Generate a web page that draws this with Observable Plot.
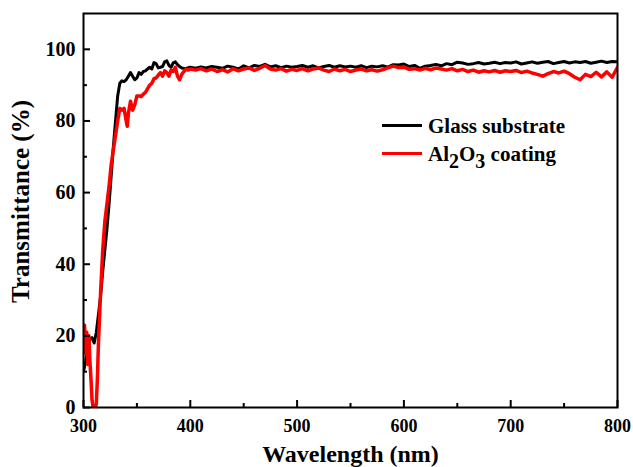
<!DOCTYPE html>
<html>
<head>
<meta charset="utf-8">
<script src="https://cdn.jsdelivr.net/npm/d3@7"></script>
<script src="https://cdn.jsdelivr.net/npm/@observablehq/plot@0.6"></script>
<style>
  html, body { margin: 0; padding: 0; background: #fff; }
  #wrap { position: relative; width: 633px; height: 467px; overflow: hidden; }
  .lg { position: absolute; font-family: "Liberation Serif", "Times New Roman", serif; font-weight: bold; font-size: 21px; line-height: 21px; white-space: nowrap; color: #000; }
  .sw { position: absolute; height: 3px; }
  .sub { position: relative; top: 7px; font-size: 20px; }
</style>
</head>
<body>
<div id="wrap"></div>
<script>
// ---- data ----
const wavelengthGlass = [300,302,304,306,308,310,312,314,316,318,320,322,324,326,328,330,332,334,336,338,340,342,344,346,348,350,352,354,356,358,360,362,364,366,368,370,372,374,376,378,380,382,384,386,388,390,392,395,
400,405,410,415,420,425,430,435,440,445,450,455,460,465,470,475,480,485,490,495,500,505,510,515,520,525,530,535,540,545,550,555,560,565,570,575,580,585,590,595,600,605,610,615,620,625,630,635,640,645,650,655,660,665,670,675,680,685,690,695,700,705,710,715,720,725,730,735,740,745,750,755,760,765,770,775,780,785,790,795,800];
const transGlass = [10,13,17,19,19.5,18,21,26,31,38,44,50,57,65,73,80,87,90.5,91.2,91,91.5,92.5,93.5,92.5,91.5,92,93.5,93,93.8,94,94.5,95,94.5,96.3,96,94.8,95,95.2,96.5,96.8,95.5,95,96.2,96.5,95.7,95.2,94.8,94.6,
95,94.7,95.1,94.8,95.2,95,94.7,95.3,95,94.5,95.4,94.8,95.5,95.2,95.8,95.1,95.4,94.9,95.3,95,95.2,95.5,95,95.4,94.8,95.2,95.5,95,95.4,95.1,95.3,95,95.4,94.9,95.3,95.1,95.4,95,95.7,95.6,95.9,95.2,95.5,94.7,95.3,95.5,95.8,95.4,96,95.7,96.4,96.2,95.8,96,96.3,95.9,96.1,96.4,96,96.3,96.2,96.5,95.9,96.2,96.5,96.1,96.4,96.6,96,96.3,96.6,96.2,96.5,96.3,96.6,96.1,96.4,96.7,96.3,96.6,96.5];

const wavelengthAl = [300,301,302,303,304,305,306,307,308,309,310,311,312,313,314,316,318,320,322,324,326,328,330,332,334,336,338,340,341,342,344,346,348,350,352,354,356,358,360,362,364,366,368,370,372,374,376,378,380,382,384,386,388,390,392,394,396,398,
400,405,410,415,420,425,430,435,440,445,450,455,460,465,470,475,480,485,490,495,500,505,510,515,520,525,530,535,540,545,550,555,560,565,570,575,580,585,590,595,600,605,610,615,620,625,630,635,640,645,650,655,660,665,670,675,680,685,690,695,700,705,710,715,720,725,730,735,740,745,750,755,760,765,770,775,780,785,790,795,800];
const transAl = [21,23,15,21,12,20,13,8,2,0,0,0,1,8,18,32,44,52,57,62,68,72,76,80,83.5,83,83.5,80,78.5,82,85.5,83,84.5,87,87,86.8,87.5,88,89,90,90.5,91.8,92,92.8,93.5,92.5,94,93.5,92.5,94.2,93.8,95,92.5,91.5,93,93.8,94.5,94.2,
94.5,94.2,94.6,94,94.5,93.8,94.3,93.7,94.6,94,94.5,94.8,94.1,94.7,95.5,94.5,94.2,94.6,93.9,94.4,94.1,94.6,94,94.5,94.8,94.2,93.8,94.5,94,94.4,93.8,94.2,94.5,94,94.3,93.9,94.3,94.8,95.3,94.9,95,94.4,94.6,94.2,94.7,94.3,94.8,94.5,94.2,94.6,94,94.4,93.8,94.2,93.6,94,93.7,94.1,93.6,94,93.8,94.1,93.5,93.9,93.4,93,92.5,93.2,93.8,93.4,93.9,93.2,92.2,91.5,93,92.4,93.6,92.3,93.7,92.2,95];

const seriesNames = ["Glass substrate", "Al2O3 coating"];
const seriesColors = ["#000000", "#ff0000"];
const xMajorTicks = [300, 400, 500, 600, 700, 800];
const xMinorTicks = [350, 450, 550, 650, 750];
const yMajorTicks = [0, 20, 40, 60, 80, 100];
const yMinorTicks = [10, 30, 50, 70, 90];
const xTitle = "Wavelength (nm)";
const yTitle = "Transmittance (%)";

// ---- tables ----
const glass = wavelengthGlass.map((w, i) => ({w, t: transGlass[i]}));
const alumina = wavelengthAl.map((w, i) => ({w, t: transAl[i]}));

const font = "'Liberation Serif', 'Times New Roman', serif";
const empty = () => "";

const chart = Plot.plot({
  width: 633,
  height: 467,
  marginLeft: 83,
  marginRight: 16,
  marginTop: 13,
  marginBottom: 60,
  style: {fontFamily: font, fontWeight: "bold", background: "#fff", color: "#000", overflow: "visible"},
  x: {domain: [300, 800]},
  y: {domain: [0, 110]},
  marks: [
    Plot.line(glass, {x: "w", y: "t", stroke: seriesColors[0], strokeWidth: 3, strokeLinejoin: "round", clip: true}),
    Plot.line(alumina, {x: "w", y: "t", stroke: seriesColors[1], strokeWidth: 3.5, strokeLinejoin: "round", clip: true}),
    Plot.frame({stroke: "#000", strokeWidth: 2}),
    // inward ticks
    Plot.axisX({ticks: xMajorTicks, tickSize: 7, dy: -7, tickFormat: empty, label: null, strokeWidth: 2}),
    Plot.axisX({ticks: xMinorTicks, tickSize: 4, dy: -4, tickFormat: empty, label: null, strokeWidth: 2}),
    Plot.axisY({ticks: yMajorTicks, tickSize: 7, dx: 7, tickFormat: empty, label: null, strokeWidth: 2}),
    Plot.axisY({ticks: yMinorTicks, tickSize: 4, dx: 4, tickFormat: empty, label: null, strokeWidth: 2}),
    // tick labels
    Plot.axisX({ticks: xMajorTicks, tickSize: 0, tickPadding: 12, fontSize: 18, label: null}),
    Plot.axisY({ticks: yMajorTicks, tickSize: 0, tickPadding: 8, fontSize: 20, label: null}),
    // titles
    Plot.text([xTitle], {frameAnchor: "bottom", textAnchor: "middle", dy: 37, lineAnchor: "top", fontSize: 24, fontWeight: "bold", text: d => d}),
    Plot.text([yTitle], {frameAnchor: "left", textAnchor: "middle", rotate: -90, dx: -72, dy: -9, lineAnchor: "top", fontSize: 25, fontWeight: "bold", text: d => d})
  ]
});

const wrap = document.getElementById("wrap");
wrap.appendChild(chart);

// legend overlay
function addLegendRow(name, color, lineTop, textTop) {
  const sw = document.createElement("div");
  sw.className = "sw";
  sw.style.left = "382px";
  sw.style.top = lineTop + "px";
  sw.style.width = "40px";
  sw.style.background = color;
  wrap.appendChild(sw);
  const tx = document.createElement("div");
  tx.className = "lg";
  tx.style.left = "428px";
  tx.style.top = textTop + "px";
  tx.innerHTML = name.replace(/(\d)/g, '<span class="sub">$1</span>');
  wrap.appendChild(tx);
}
addLegendRow(seriesNames[0], seriesColors[0], 124, 116);
addLegendRow(seriesNames[1], seriesColors[1], 152, 144);
</script>
</body>
</html>
